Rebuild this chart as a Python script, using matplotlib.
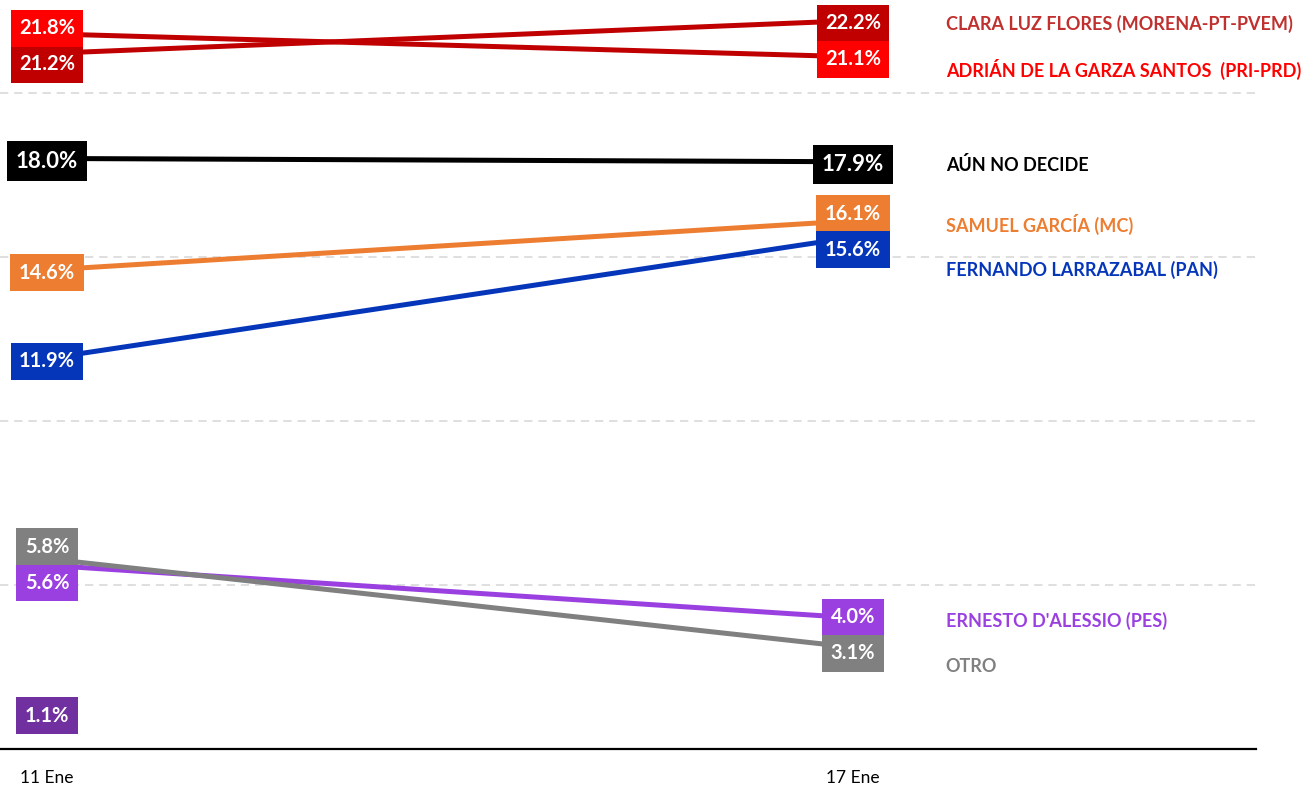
import numpy as np
import matplotlib
matplotlib.use("Agg")
import matplotlib.pyplot as plt

plt.rcParams['font.family'] = ['Lato', 'DejaVu Sans']

fechas = ['11 Ene', '17 Ene']

nombres = ['CLARA LUZ FLORES (MORENA-PT-PVEM)',
           'ADRIÁN DE LA GARZA SANTOS  (PRI-PRD)',
           'AÚN NO DECIDE',
           'SAMUEL GARCÍA (MC)',
           'FERNANDO LARRAZABAL (PAN)',
           "ERNESTO D'ALESSIO (PES)",
           'OTRO',
           '']
ene11 = [21.2, 21.8, 18.0, 14.6, 11.9, 5.6, 5.8, 1.1]
ene17 = [22.2, 21.1, 17.9, 16.1, 15.6, 4.0, 3.1, np.nan]

color_caja = ['#C00000', '#FF0000', '#000000', '#ED7D31', '#0536BA', '#9B40E0', '#808080', '#7030A0']
color_linea = ['#C00000', '#C00000', '#000000', '#ED7D31', '#0536BA', '#9B40E0', '#808080', '#7030A0']
color_nombre = ['#C0302E', '#FF0000', '#000000', '#ED7D31', '#0536BA', '#9B40E0', '#808080', '#7030A0']


def separar(vals, gap):
    # agrupa etiquetas que se enciman y las reparte alrededor de su promedio
    idx = [i for i in np.argsort(vals)[::-1] if not np.isnan(vals[i])]
    pos = list(vals)
    grupos = []
    for i in idx:
        if grupos and vals[grupos[-1][-1]] - vals[i] < gap:
            grupos[-1].append(i)
        else:
            grupos.append([i])
    for g in grupos:
        m = np.mean([vals[i] for i in g])
        n = len(g)
        for k, i in enumerate(g):
            pos[i] = m + gap * ((n - 1) / 2 - k)
    return pos


def empujar(vals, gap):
    # de arriba hacia abajo, baja la etiqueta si choca con la anterior
    pos = list(vals)
    ult = None
    for i in np.argsort(vals)[::-1]:
        if np.isnan(vals[i]):
            continue
        if ult is not None and pos[ult] - vals[i] < gap:
            pos[i] = pos[ult] - gap
        ult = i
    return pos


fig = plt.figure(figsize=(13.12, 7.88), dpi=100)
ax = fig.add_axes([0, 39 / 788, 1256 / 1312, 749 / 788])

for i in range(len(nombres)):
    ax.plot([0, 1], [ene11[i], ene17[i]], color=color_linea[i], lw=3.6,
            solid_capstyle='butt', zorder=2)

y11 = separar(ene11, 1.1)
y17 = separar(ene17, 1.1)
yn = empujar(ene17, 1.4)

for col, vals, ys in [(0, ene11, y11), (1, ene17, y17)]:
    for i, v in enumerate(vals):
        if np.isnan(v):
            continue
        grande = color_caja[i] == '#000000'
        ax.text(col, ys[i] - 0.08, f'{v:.1f}%', color='white', fontsize=16 if grande else 14.5,
                fontweight='bold', ha='center', va='center', zorder=4, clip_on=False,
                bbox=dict(boxstyle='square,pad=0.42', fc=color_caja[i], ec='none'))

for i, n in enumerate(nombres):
    if not n or np.isnan(ene17[i]):
        continue
    ax.text(1.115, yn[i] - 0.1, n, color=color_nombre[i], fontsize=13, fontweight='bold',
            ha='left', va='center', zorder=4,
            bbox=dict(boxstyle='square,pad=0.1', fc='white', ec='none'))

ax.set_xlim(-0.0583, 1.5)
ax.set_ylim(0, 22.83)
ax.set_yticks([5, 10, 15, 20])
ax.yaxis.grid(True, color='#D9D9D9', lw=1.2, linestyle=(0, (5, 3.5)))
ax.set_axisbelow(True)
ax.tick_params(axis='y', length=0, labelleft=False)
ax.set_xticks([0, 1])
ax.set_xticklabels(fechas, fontsize=12.5)
ax.tick_params(axis='x', length=0, pad=15)
for s in ['top', 'left', 'right']:
    ax.spines[s].set_visible(False)
ax.spines['bottom'].set_color('black')
ax.spines['bottom'].set_linewidth(1.6)

fig.savefig('out.png', dpi=100)
